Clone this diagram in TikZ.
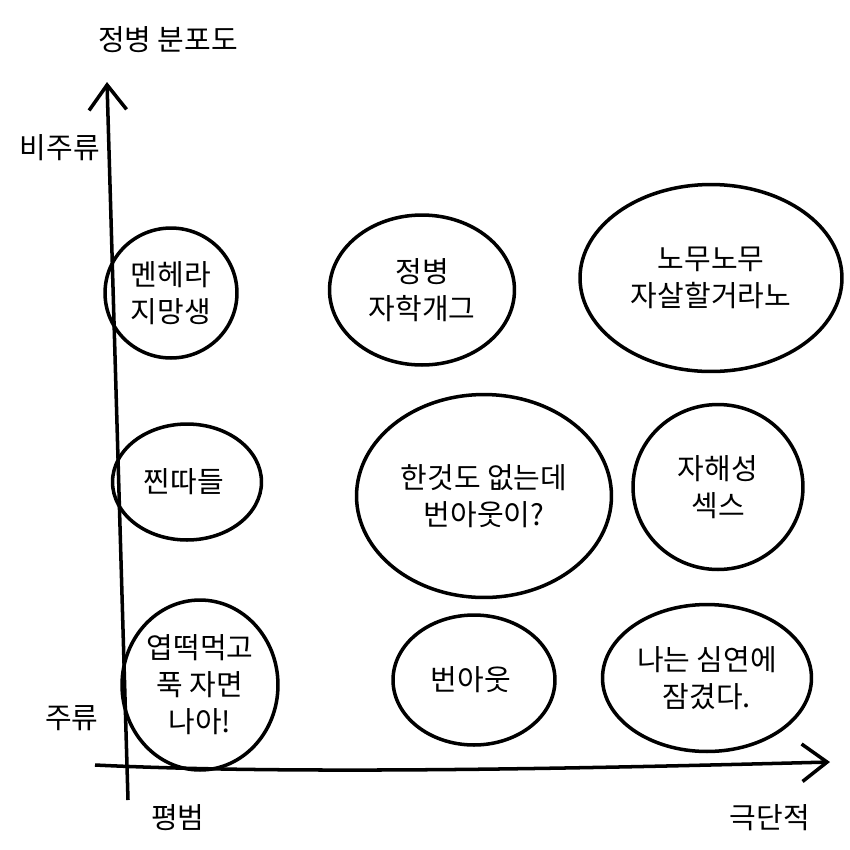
\documentclass[tikz,border=0pt]{standalone}
\usepackage{fontspec}
\setmainfont{Noto Sans CJK KR}
\usetikzlibrary{
  shapes.geometric,
  positioning,
  arrows.meta}
\tikzset{
  %% blob : a hand drawn bubble with a group in it
  blob/.style={
    ellipse,
    draw=black,
    line width=2pt,
    inner sep=0pt,
    align=center,
    font=\fontsize{16.5}{21}\selectfont
  },
  %% axislabel : text along the axes
  axislabel/.style={
    align=center,
    inner sep=0pt,
    font=\fontsize{16.5}{21}\selectfont
  },
  %% axis : the two arrows
  axis/.style={
    line width=2pt,
    -{Straight Barb[length=0.5cm,width=0.75cm,line width=2pt]}
  }
}

\begin{document}
\begin{tikzpicture}
  [x=0.02cm,
  y=-0.02cm]

  \useasboundingbox (0,0) rectangle (850,850);

  %% Axes
  \coordinate (ybottom) at (128,800);
  \coordinate (ytop) at (107,82);
  \coordinate (xleft) at (95,765);
  \coordinate (xright) at (830,762);

  \draw [axis] (ybottom) -- (ytop);
  \draw [axis] (xleft) .. controls (300,775) and (600,768) .. (xright);

  %% Axis labels
  \node (title) [axislabel] at (168,40) {정병 분포도};
  \node (nonmain) [axislabel] at (60,148) {비주류};
  \node (main) [axislabel] at (72,718) {주류};
  \node (plain) [axislabel] at (178,818) {평범};
  \node (extreme) [axislabel] at (770,818) {극단적};

  %% Top row
  \node (menhera) [blob, minimum width=2.64cm, minimum height=2.6cm]
  at (171,293) {%
    멘헤라\\지망생
  };

  \node (selfjoke) [blob, minimum width=3.7cm, minimum height=3.0cm]
  at (422,290) {%
    정병\\자학개그
  };

  \node (nomu) [blob, minimum width=5.24cm, minimum height=3.74cm]
  at (711,278) {%
    노무노무\\자살할거라노
  };

  %% Middle row
  \node (jjin) [blob, minimum width=2.98cm, minimum height=2.32cm]
  at (187,482) {%
    찐따들
  };

  \node (burnoutq) [blob, minimum width=5.1cm, minimum height=4.06cm]
  at (484,496) {%
    한것도 없는데\\번아웃이?
  };

  \node (selfharm) [blob, minimum width=3.4cm, minimum height=3.3cm]
  at (718,487) {%
    자해성\\섹스
  };

  %% Bottom row
  \node (yeopddeok) [blob, inner xsep=-0.25cm,
  minimum width=3.12cm, minimum height=3.4cm]
  at (200,685) {%
    엽떡먹고\\푹 자면\\나아!
  };

  \node (burnout) [blob, minimum width=3.24cm, minimum height=2.6cm]
  at (474,680) {%
    번아웃
  };

  \node (abyss) [blob, minimum width=4.18cm, minimum height=2.94cm]
  at (707,678) {%
    나는 심연에\\잠겼다.
  };

\end{tikzpicture}
\end{document}
